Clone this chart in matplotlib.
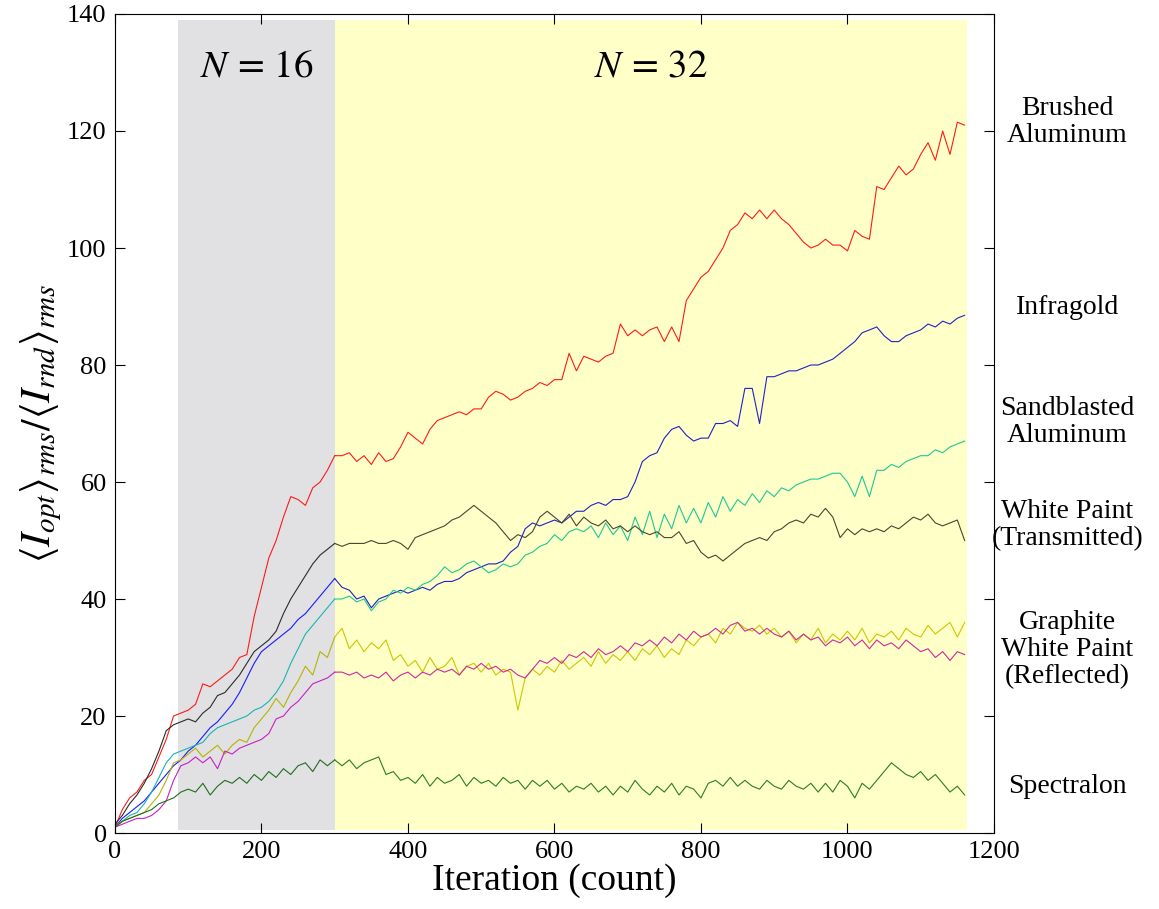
import numpy as np
import matplotlib
matplotlib.use('Agg')
import matplotlib.pyplot as plt

plt.rcParams['font.family'] = ['Liberation Serif', 'DejaVu Serif']
plt.rcParams['mathtext.fontset'] = 'stix'

# 数据：每 10 次迭代读取一个点 (0 ... 1160)
step = 10
split_at = 300

brushed_al = [1, 4, 6, 7, 9, 10, 13, 16, 20, 20.5, 21, 22, 25.5, 25, 26, 27, 28, 30, 30.5, 37,
              42, 47, 50, 54, 57.5, 57, 56, 59, 60, 62, 64.5,
              64.5, 65, 63.5, 64.5, 63, 65, 63.5, 64, 66, 68.5, 67.5, 66.5, 69, 70.5, 71, 71.5, 72, 71.5, 72.5,
              72.5, 74.5, 75.5, 75, 74, 74.5, 75.5, 76, 77, 76.5, 77.5, 77.5, 82, 79, 81.5, 81, 80.5, 81.5, 82, 87,
              85, 86, 85, 86, 86.5, 84, 86.5, 84, 91, 93, 95, 96, 98, 100, 103, 104, 106, 105, 106.5, 105,
              106.5, 105, 104, 102.5, 101, 100, 100.5, 101.5, 100.5, 100.5, 99.5, 103, 102, 101.5, 110.5, 110,
              112, 114, 112.5, 113.5, 116, 118, 115, 120, 116, 121.5, 121]

infragold = [1, 2.5, 3.5, 4.5, 5.5, 7, 8.5, 10, 11.5, 12.5, 14, 15, 16.5, 18, 19, 20.5, 22, 24, 26.5, 29,
             31, 32, 33, 34, 35, 36.5, 37.5, 39, 40.5, 42, 43.5,
             42, 41.5, 40, 40.5, 38.5, 40, 40.5, 41, 41.5, 41, 41.5, 42, 41.5, 42.5, 43, 43, 43.5, 44.5, 45,
             45.5, 46, 46, 46.5, 48, 49, 52, 53, 52.5, 53, 53.5, 53, 54, 55, 55, 56, 56.5, 56, 57, 57,
             57.5, 60, 63.5, 64.5, 65, 67.5, 69, 69.5, 68, 67, 67.5, 67.5, 70, 70, 70.5, 69.5, 76, 76, 70, 78,
             78, 78.5, 79, 79, 79.5, 80, 80, 80.5, 81, 82, 83, 84, 85.5, 86, 86.5, 85, 84, 84, 85, 85.5,
             86, 87, 86.5, 87.5, 87, 88, 88.5]

sandblasted_al = [1, 2, 3, 3.5, 5, 7, 9.5, 12, 13.5, 14, 14.5, 15, 15.5, 17, 18, 18.5, 19, 19.5, 20, 21,
                  21.5, 22.5, 24, 26, 29, 31.5, 34, 35.5, 37, 38.5, 40,
                  40, 40.5, 39.5, 40, 38, 39.5, 40, 41.5, 41, 42, 41.5, 42.5, 43, 44, 45.5, 44.5, 45, 46, 46.5,
                  45.5, 44.5, 45, 46, 45.5, 46, 47.5, 48, 49, 49.5, 51, 50, 51.5, 52, 51.5, 52.5, 50.5, 53, 51, 52.5,
                  50, 54, 51, 55, 50.5, 54.5, 52, 56, 53, 55.5, 53, 56.5, 54, 57.5, 55, 57, 56, 58, 56.5, 58.5,
                  57.5, 59, 58.5, 59.5, 60, 60.5, 60.5, 61, 61.5, 61.5, 60, 57.5, 61, 57.5, 62, 62, 63, 62.5, 63.5, 64,
                  64.5, 64.5, 65.5, 65, 66, 66.5, 67]

white_trans = [1.5, 3, 5, 6.5, 8.5, 11, 14, 17.5, 18.5, 19, 19.5, 19, 20.5, 21.5, 23.5, 24, 25.5, 27, 29, 31,
               32, 33, 34.5, 37.5, 40, 42, 44, 46, 47.5, 48.5, 49.5,
               49, 49.5, 49.5, 49.5, 50, 49.5, 49.5, 50, 49.5, 48.5, 50.5, 51, 51.5, 52, 52.5, 53.5, 54, 55, 56,
               55, 54, 53, 51.5, 50, 51, 50.5, 51.5, 54, 55, 54, 53, 54.5, 52.5, 54, 53, 52.5, 53.5, 52, 52.5,
               51.5, 52.5, 51.5, 51, 51.5, 50.5, 50.5, 51.5, 49.5, 50, 48, 47, 47.5, 46.5, 47.5, 48.5, 49.5, 50, 50.5, 50,
               51.5, 52, 53, 53.5, 53, 54.5, 54, 55.5, 54, 50.5, 52, 51, 52, 51.5, 52, 51.5, 52.5, 52, 53, 54,
               53.5, 54.5, 53, 52.5, 53, 53.5, 50]

graphite = [1, 2, 2.5, 3, 3.5, 5, 6.5, 9, 12, 12.5, 13.5, 14.5, 13, 14, 15, 13.5, 15, 16, 15.5, 18,
            19.5, 21, 23, 21.5, 24, 26, 28.5, 27, 31, 30, 33.5,
            35, 31.5, 33, 31, 32.5, 31.5, 33, 29.5, 30.5, 28.5, 29.5, 27.5, 30, 28, 28.5, 30, 27, 28.5, 29,
            27.5, 29, 27, 28, 27.5, 21, 26.5, 28, 27, 28.5, 27.5, 29.5, 28, 29, 30, 28.5, 31, 29, 30.5, 29.5,
            31, 29.5, 31.5, 30.5, 32, 30, 31.5, 30.5, 33, 32, 33.5, 34, 32.5, 35, 34, 36, 35, 34.5, 35.5, 34,
            35, 33.5, 34.5, 32.5, 34, 33, 35, 32.5, 34, 33, 34.5, 33, 35, 32.5, 34, 33.5, 34.5, 33, 35, 34,
            33.5, 35.5, 34, 35, 36, 33.5, 36]

white_refl = [1, 1.5, 2, 2.5, 2.5, 3, 4, 5.5, 9, 11.5, 12, 13, 12, 13, 11, 14, 13.5, 14.5, 15, 15.5,
              16, 17, 19.5, 20, 21.5, 22.5, 24, 25.5, 26, 26.5, 27.5,
              27.5, 27, 27.5, 26.5, 27, 26.5, 27.5, 26, 27, 27.5, 26.5, 27.5, 27, 28, 27.5, 28, 27, 28.5, 28,
              29, 28, 28.5, 27.5, 28, 27, 26.5, 28, 29.5, 29, 30, 29, 30.5, 30, 31, 30, 31.5, 30.5, 31, 32,
              31, 32.5, 32, 33, 32, 33.5, 32.5, 34, 33, 34.5, 33.5, 34, 35, 34, 35.5, 36, 34.5, 35, 34, 35,
              34, 33.5, 34.5, 33, 34, 33, 33.5, 32, 33, 32.5, 33.5, 32, 33, 31.5, 33, 32, 32.5, 31.5, 33, 32,
              31, 31.5, 30, 31, 29.5, 31, 30.5]

spectralon = [1, 2, 2.5, 3, 3.5, 4, 5, 5.5, 6, 7, 7.5, 7, 8.5, 6.5, 8, 9, 8.5, 9.5, 8.5, 10,
              9, 10.5, 9.5, 11, 10, 11.5, 12, 10.5, 12.5, 11.5, 12.5,
              11.5, 12.5, 11, 12, 12.5, 13, 10, 10.5, 9, 9.5, 8.5, 10, 8, 9.5, 8.5, 9, 10, 8, 9.5,
              8.5, 9, 8, 9.5, 8.5, 9, 7.5, 9, 8, 9, 7.5, 8.5, 7, 8, 7.5, 8.5, 7, 8, 6.5, 8,
              7, 9, 7.5, 6.5, 8, 7, 8.5, 6.5, 8, 7.5, 6, 8.5, 9, 8, 9.5, 8, 9, 8, 7.5, 9,
              8, 7.5, 9, 8, 7.5, 8.5, 7, 8.5, 7, 9, 8, 6, 8.5, 7.5, 9, 10.5, 12, 11, 10, 9.5,
              10.5, 9, 10, 8.5, 7, 8, 6.5]

series = [
    (brushed_al, '#ff1a1a', '#ff1a1a'),
    (infragold, '#1a1aff', '#2020c8'),
    (sandblasted_al, '#19b4b4', '#1ec896'),
    (white_trans, '#2b2b2b', '#4a4630'),
    (graphite, '#b4b400', '#c8c800'),
    (white_refl, '#c81ec8', '#d2289b'),
    (spectralon, '#1e6e1e', '#2a7f1f'),
]

labels = ['Brushed\nAluminum', 'Infragold', 'Sandblasted\nAluminum', 'White Paint\n(Transmitted)',
          'Graphite\nWhite Paint\n(Reflected)', 'Spectralon']
label_y = [121.5, 89.9, 70.3, 52.6, 31.3, 7.9]

fig = plt.figure(figsize=(11.59, 9.09), dpi=100)
ax = fig.add_axes([0.0992, 0.0836, 0.7584, 0.901])

# 背景区域
ax.fill_between([86, 300], 0.5, 139, color='#e1e1e3', lw=0, zorder=0)
ax.fill_between([300, 1163], 0.5, 139, color='#ffffc8', lw=0, zorder=0)

for y, c1, c2 in series:
    y = np.array(y)
    x = np.arange(len(y)) * step
    m1 = x <= split_at
    m2 = x >= split_at
    ax.plot(x[m1], y[m1], color=c1, lw=0.8, zorder=2)
    ax.plot(x[m2], y[m2], color=c2, lw=0.8, zorder=2)

ax.text(193, 131, r'$N\,=\,16$', fontsize=28, ha='center', va='center')
ax.text(732, 131, r'$N\,=\,32$', fontsize=28, ha='center', va='center')

for lab, ly in zip(labels, label_y):
    ax.text(1300, ly, lab, fontsize=20, ha='center', va='center', multialignment='center',
            linespacing=1.1, clip_on=False)

ax.set_xlim(0, 1200)
ax.set_ylim(0, 140)
ax.set_xticks(np.arange(0, 1201, 200))
ax.set_yticks(np.arange(0, 141, 20))
ax.tick_params(direction='in', top=True, right=True, length=7, labelsize=19, pad=6)
ax.set_xlabel('Iteration (count)', fontsize=27, labelpad=0)
ax.set_ylabel(r'$\langle I_{opt}\rangle_{rms}/\langle I_{rnd}\rangle_{rms}$', fontsize=30, labelpad=2)

plt.savefig('out.png', dpi=100)
